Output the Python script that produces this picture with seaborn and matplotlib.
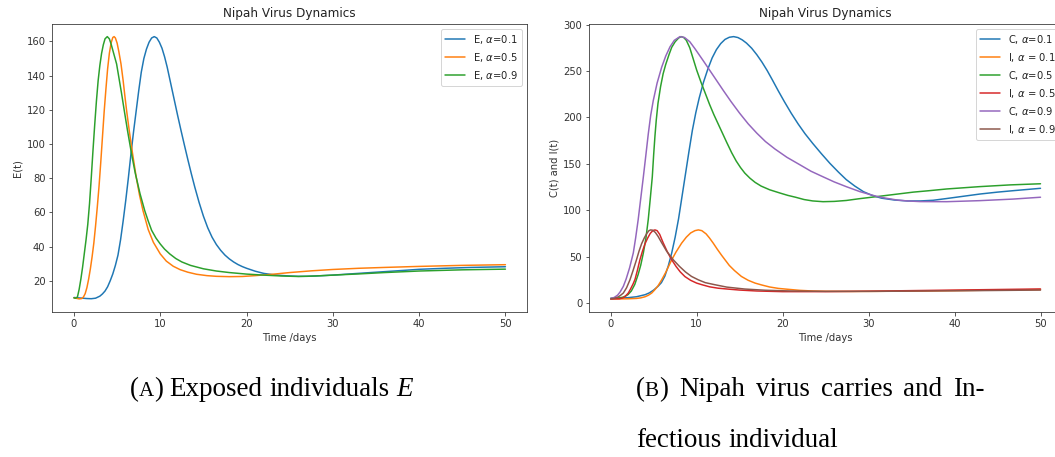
import numpy as np
import pandas as pd
import matplotlib
matplotlib.use("Agg")
import matplotlib.pyplot as plt
import seaborn as sns

# ---- exposed class E(t) for three fractional orders ----
t_e1 = [0, 0.5, 1, 1.5, 2, 2.5, 3, 3.3, 3.6, 3.9, 4.2, 4.5, 4.8, 5.1, 5.4, 5.7, 6.0, 6.3, 6.6,
        6.9, 7.2, 7.5, 7.8, 8.1, 8.4, 8.7, 9.0, 9.3, 9.6, 9.9, 10.2, 10.5, 10.8, 11.1, 11.4,
        11.7, 12.0, 12.4, 12.8, 13.2, 13.6, 14.0, 14.5, 15, 15.5, 16, 16.5, 17, 17.5, 18,
        18.5, 19, 19.5, 20, 21, 22, 23, 24, 25, 26, 27, 28, 30, 32, 35, 38, 40, 43, 46, 50]
e_a1 = [10.2, 10.0, 9.8, 9.6, 9.5, 9.8, 11, 12.3, 14, 16.5, 20, 24, 29, 35, 44, 55, 67, 80, 94,
        107, 119, 131, 142, 150, 155.5, 159.5, 162, 162.8, 162, 159.5, 156, 151, 145, 138,
        131, 124, 117, 108, 99.3, 90.8, 82.6, 74.8, 65.8, 57.8, 51, 45.5, 41.2, 37.8, 35.0,
        32.8, 31, 29.5, 28.3, 27.3, 25.6, 24.3, 23.6, 23.1, 22.8, 22.6, 22.6, 22.8, 23.3, 24,
        25.0, 26, 26.7, 27.3, 27.8, 28.2]

t_e5 = [0, 0.3, 0.6, 0.9, 1.1, 1.3, 1.5, 1.7, 1.9, 2.1, 2.3, 2.5, 2.7, 2.9, 3.1, 3.3, 3.5, 3.7,
        3.9, 4.1, 4.3, 4.5, 4.65, 4.8, 5.0, 5.2, 5.45, 5.7, 5.9, 6.1, 6.4, 6.8, 7.2, 7.6, 8.0,
        8.6, 9.2, 10, 10.7, 11.5, 12.3, 13.2, 14.2, 15.4, 16.5, 18, 19.5, 21, 23, 25, 27.5,
        30, 33, 36, 40, 45, 50]
e_a5 = [10, 9.7, 9.4, 9.6, 10.5, 12.5, 16, 21, 27, 34, 42, 52, 63, 75, 89, 104, 119, 132, 144,
        153, 159, 162.3, 162.8, 162, 159, 154, 146.8, 137, 128, 119.5, 108, 94, 81, 70, 61,
        50, 42.5, 35.7, 31.5, 28.5, 26.5, 25, 23.8, 23, 22.6, 22.4, 22.5, 23, 23.8, 24.8,
        25.8, 26.6, 27.3, 27.8, 28.4, 29, 29.4]

t_e9 = [0, 0.2, 0.4, 0.6, 0.8, 1.0, 1.2, 1.4, 1.6, 1.8, 2.0, 2.2, 2.4, 2.6, 2.8, 3.0, 3.2, 3.4,
        3.6, 3.86, 4.1, 4.3, 4.6, 4.94, 5.2, 5.5, 5.83, 6.2, 6.68, 7.1, 7.65, 8.2, 8.6, 9.0,
        9.5, 10, 10.5, 11.1, 11.8, 12.5, 13.5, 15, 16.5, 18, 20, 22, 24, 26, 28, 30, 33, 36,
        40, 45, 50]
e_a9 = [10, 9.8, 10.5, 15, 21, 28, 36, 44, 53, 65, 80, 96, 111, 125, 137, 146, 153, 158, 161.5,
        162.8, 161.5, 158.5, 153, 146.8, 139, 130, 119.5, 108, 94, 83, 71, 61, 55, 49.5, 45,
        41.5, 38.5, 35.7, 33, 31, 29, 27, 25.7, 24.8, 23.9, 23.3, 22.8, 22.5, 22.8, 23.3, 24,
        24.8, 25.7, 26.4, 26.8]

# ---- carriers C(t) and infectious I(t) ----
t_c1 = [0, 1, 2, 3, 4, 4.5, 5, 5.5, 5.9, 6.3, 6.7, 7.1, 7.5, 7.9, 8.3, 8.7, 9.1, 9.5, 9.9, 10.3,
        10.8, 11.3, 11.8, 12.3, 12.8, 13.3, 13.8, 14.3, 14.8, 15.3, 15.8, 16.4, 17, 17.6, 18.2,
        18.8, 19.5, 20.2, 21, 21.8, 22.6, 23.5, 24.5, 25.5, 26.5, 27.4, 28.4, 29.4, 30.4, 31.5,
        33, 34.5, 36, 37.5, 39, 41, 43, 45, 47, 50]
c_a1 = [5, 5.3, 5.8, 6.8, 9, 11, 14, 18, 22, 29, 40, 54, 71, 91, 115, 139, 163, 186, 205, 221,
        238, 252, 264, 273, 279.5, 284, 286.3, 287, 286, 283.5, 280, 274.5, 267.5, 259.5,
        250.5, 240.5, 228.5, 217, 204.5, 193, 182.5, 172, 161, 150.5, 141, 133, 126, 120, 116,
        113, 111, 110, 110, 110.7, 112.5, 115, 117.5, 119.5, 121.2, 123.6]

t_i1 = [0, 1, 2, 3, 3.5, 4, 4.4, 4.77, 5.1, 5.5, 5.93, 6.4, 7.1, 7.6, 8.25, 8.8, 9.3, 9.8, 10.2,
        10.6, 11.1, 11.5, 11.93, 12.4, 12.9, 13.3, 13.8, 14.4, 15.2, 16, 16.8, 17.56, 18.5,
        19.5, 20.65, 22, 23.5, 25, 28, 31, 35, 40, 45, 50]
i_a1 = [4.5, 4.5, 4.6, 5, 5.6, 6.8, 8.5, 10.8, 14, 18.5, 25, 33, 46.6, 55, 64.5, 71, 75.5, 78,
        78.8, 78, 74.5, 70, 64.5, 58, 51.5, 46.6, 40.5, 35, 28.7, 24.5, 21.5, 19.5, 17.3, 15.8,
        14.8, 13.7, 13, 12.7, 12.5, 12.6, 12.9, 13.4, 14, 14.5]

t_c5 = [0, 1, 1.5, 2, 2.4, 2.8, 3.2, 3.5, 3.8, 4.1, 4.37, 4.6, 4.84, 5.0, 5.15, 5.3, 5.5, 5.8,
        6.1, 6.4, 6.8, 7.1, 7.5, 7.9, 8.2, 8.5, 8.8, 9.2, 9.6, 10.0, 10.5, 10.96, 11.5, 12,
        12.5, 13, 13.5, 14.07, 14.6, 15.1, 15.6, 16.2, 16.8, 17.5, 18.5, 19.7, 20.6, 21.5,
        22.5, 23.5, 24.7, 26, 27.4, 29, 30.9, 33, 35.2, 37, 39.1, 42.9, 46.5, 50]
c_a5 = [5, 5.5, 6.5, 9, 13, 20, 31, 41, 54, 70, 90, 112, 136, 160, 180, 197, 215, 233, 247, 257,
        268, 275.5, 281.5, 285.5, 287, 286, 283, 275, 263, 251, 238, 227, 214, 203, 193, 183,
        173, 162, 153, 146, 140, 134.5, 130, 126, 122, 118.5, 116, 114, 111.5, 110, 109.2,
        109.5, 110.5, 112.5, 114.6, 117, 119.5, 121, 122.9, 125.4, 127.3, 128.5]

t_i5 = [0, 0.5, 1, 1.4, 1.7, 2.05, 2.3, 2.6, 2.83, 3.1, 3.4, 3.7, 4.0, 4.3, 4.6, 4.9, 5.15, 5.4,
        5.7, 6.1, 6.6, 7.1, 7.6, 8.1, 8.64, 9.3, 10, 10.6, 11.5, 12.5, 13.7, 15, 17, 20, 25,
        30, 35, 40, 45, 50]
i_a5 = [4.5, 4.5, 4.6, 5.5, 7.3, 10.8, 15, 20.5, 25.5, 35, 46.6, 56, 64, 70, 75, 78, 78.8, 78,
        74, 65, 55, 46.6, 39.5, 33.5, 28.5, 24.5, 21.5, 19.8, 17.5, 16, 15, 14, 13, 12.3,
        12.3, 12.8, 13.4, 14, 14.6, 15.2]

t_c9 = [0, 0.4, 0.8, 1.1, 1.47, 1.8, 2.2, 2.63, 2.9, 3.2, 3.5, 3.8, 4.1, 4.37, 4.65, 4.95, 5.4,
        5.93, 6.4, 6.9, 7.4, 8.06, 8.6, 9.2, 9.8, 10.77, 11.5, 12.3, 13.1, 14, 15, 16, 17, 18,
        19.1, 20.5, 22, 23.3, 24.7, 26, 27.4, 29, 30.9, 32, 33.3, 34.5, 36, 39.1, 42.9, 46.8,
        50]
c_a9 = [5, 6, 8.5, 12, 18, 26, 38, 54, 70, 90, 113, 136, 160, 182, 202, 218, 237, 254, 266, 276,
        283, 287, 286, 281.5, 274, 261, 251, 240, 229, 217, 204.5, 193, 183, 174, 166, 157,
        149, 142, 136, 130.5, 125.4, 120, 115, 113, 111, 110, 109.3, 109.2, 110.3, 112, 114]

t_i9 = [0, 0.4, 0.8, 1.1, 1.47, 1.85, 2.24, 2.6, 3.0, 3.3, 3.6, 3.9, 4.2, 4.45, 4.65, 4.9, 5.2,
        5.5, 5.93, 6.5, 7.28, 8, 8.7, 9.4, 10.2, 11, 12.1, 13.5, 15.6, 18, 21, 25, 30, 35, 40,
        45, 50]
i_a9 = [4.5, 5, 6.3, 8, 10.8, 16.5, 25, 35, 46.6, 56, 64, 70, 75, 78, 78.8, 78.4, 76, 72, 65,
        56, 46.6, 39.5, 33.5, 28.7, 25, 22, 19.8, 17.2, 15.1, 13.8, 13, 12.6, 12.6, 12.9, 13.2,
        13.6, 14]

labels_e = [r"E, $\alpha$=0.1", r"E, $\alpha$=0.5", r"E, $\alpha$=0.9"]
labels_ci = [r"C, $\alpha$=0.1", r"I, $\alpha$ = 0.1", r"C, $\alpha$=0.5",
             r"I, $\alpha$ = 0.5", r"C, $\alpha$=0.9", r"I, $\alpha$ = 0.9"]


def long_frame(series, labels):
    parts = []
    for (t, v), lab in zip(series, labels):
        parts.append(pd.DataFrame({"t": t, "v": v, "series": lab}))
    return pd.concat(parts, ignore_index=True)


df_e = long_frame([(t_e1, e_a1), (t_e5, e_a5), (t_e9, e_a9)], labels_e)
df_ci = long_frame([(t_c1, c_a1), (t_i1, i_a1), (t_c5, c_a5), (t_i5, i_a5),
                    (t_c9, c_a9), (t_i9, i_a9)], labels_ci)

sns.set_style("white")
plt.rcParams.update({
    "font.family": ["DejaVu Sans"],
    "axes.edgecolor": "#333333",
    "axes.linewidth": 0.8,
    "xtick.bottom": True,
    "ytick.left": True,
    "xtick.color": "#333333",
    "ytick.color": "#333333",
    "xtick.labelcolor": "#333333",
    "ytick.labelcolor": "#333333",
    "axes.labelcolor": "#333333",
    "text.color": "#222222",
    "mathtext.fontset": "dejavusans",
})

W, H = 1055, 457
DPI = 72
fig = plt.figure(figsize=(W / DPI, H / DPI), dpi=DPI)


def axes_px(x0, x1, y0, y1):
    return fig.add_axes([x0 / W, 1 - y1 / H, (x1 - x0) / W, (y1 - y0) / H])


pal = sns.color_palette("tab10")

ax1 = axes_px(52.4, 527, 23.5, 312)
sns.lineplot(data=df_e, x="t", y="v", hue="series", hue_order=labels_e,
             palette=pal[:3], estimator=None, sort=False, linewidth=1.5, ax=ax1)
h, l = ax1.get_legend_handles_labels()
ax1.legend(h, l, loc="upper right", fontsize=10)
ax1.set_title("Nipah Virus Dynamics", fontsize=12)
ax1.set_xlabel("Time /days", fontsize=10)
ax1.set_ylabel("E(t)", fontsize=10)
ax1.set_yticks([20, 40, 60, 80, 100, 120, 140, 160])
ax1.set_xticks([0, 10, 20, 30, 40, 50])

ax2 = axes_px(589.2, 1062, 23.5, 312)
sns.lineplot(data=df_ci, x="t", y="v", hue="series", hue_order=labels_ci,
             palette=pal[:6], estimator=None, sort=False, linewidth=1.5, ax=ax2)
h, l = ax2.get_legend_handles_labels()
ax2.legend(h, l, loc="upper right", fontsize=10, bbox_to_anchor=(1.006, 1.0))
ax2.set_title("Nipah Virus Dynamics", fontsize=12)
ax2.set_xlabel("Time /days", fontsize=10)
ax2.set_ylabel("C(t) and I(t)", fontsize=10)
ax2.set_yticks([0, 50, 100, 150, 200, 250, 300])
ax2.set_xticks([0, 10, 20, 30, 40, 50])

for ax in (ax1, ax2):
    ax.tick_params(labelsize=10, length=3.5, width=0.8, direction="out")
    for s in ax.spines.values():
        s.set_visible(True)

# ---- sub-figure captions in a serif face ----
SERIF = "Liberation Serif"
CAP = 27
renderer = fig.canvas.get_renderer()


def piece_width(s, size, style="normal"):
    t = fig.text(0, 0, s, fontsize=size, fontstyle=style, family=SERIF)
    w = t.get_window_extent(renderer).width
    t.remove()
    return w


def draw_run(pieces, x_px, y_px, right_px=None):
    """pieces: list of words, each a list of (text, size, style) parts."""
    widths = [sum(piece_width(s, sz, st) for s, sz, st in word) for word in pieces]
    space = piece_width("a a", CAP) - piece_width("aa", CAP)
    if right_px is not None and len(pieces) > 1:
        space = (right_px - x_px - sum(widths)) / (len(pieces) - 1)
    x = x_px
    for word, w in zip(pieces, widths):
        xx = x
        for s, sz, st in word:
            fig.text(xx / W, 1 - y_px / H, s, fontsize=sz, fontstyle=st, family=SERIF,
                     color="black", va="baseline", ha="left")
            xx += piece_width(s, sz, st)
        x += w + space


def tag(letter):
    return [("(", CAP, "normal"), (letter, CAP * 0.78, "normal"), (")", CAP, "normal")]


def words(text):
    return [[(w, CAP, "normal")] for w in text.split()]


draw_run([tag("A")] + words("Exposed individuals") + [[("E", CAP, "italic")]], 130, 396)
draw_run([tag("B")] + words("Nipah virus carries and In-"), 636, 396, right_px=985)
draw_run(words("fectious individual"), 636, 447)

fig.savefig("out.png", dpi=DPI)
